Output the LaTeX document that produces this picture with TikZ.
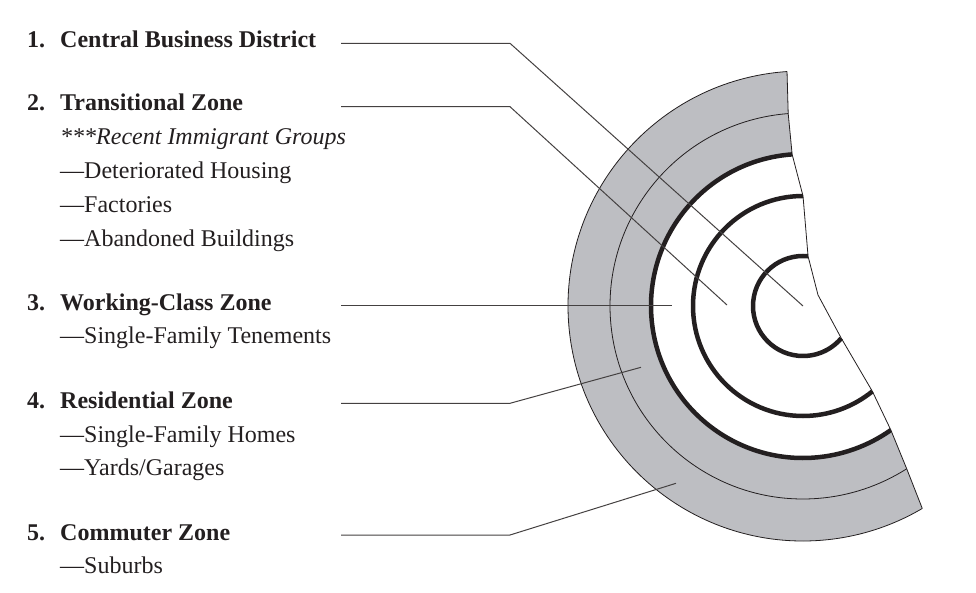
\documentclass[tikz,border=0pt]{standalone}
\usepackage{fontspec}
\setmainfont{Liberation Serif}
\usepackage{xcolor}
\definecolor{zonegray}{RGB}{189,190,194}
\definecolor{inkdark}{RGB}{35,31,32}

\begin{document}
\begin{tikzpicture}[x=1pt, y=1pt,
    num/.style={anchor=base west, inner sep=0pt, text=inkdark, font=\fontsize{24}{29}\selectfont\bfseries},
    zone/.style={anchor=base west, inner sep=0pt, text=inkdark, font=\fontsize{24}{29}\selectfont\bfseries},
    item/.style={anchor=base west, inner sep=0pt, text=inkdark, font=\fontsize{24}{29}\selectfont},
    ring/.style={line width=4.5pt, draw=inkdark},
    thinring/.style={line width=0.8pt, draw=inkdark},
    leader/.style={line width=1pt, draw=inkdark!85}]
    \useasboundingbox (0,0) rectangle (976,592);

    % Centre of the rings
    \coordinate (C) at (803,286);

    \begin{scope}[shift={(C)}]
        % Fill the two outer zones
        \fill[zonegray] (93.9:235) arc[start angle=93.9, end angle=300.5, radius=235]
            -- (302.5:193) -- (305.3:152) arc[start angle=305.3, end angle=94.1, radius=152]
            -- (94.4:193) -- cycle;

        % Define coordinates for the ring ends
        \coordinate (T5) at (93.9:235);
        \coordinate (T4) at (94.4:193);
        \coordinate (T3) at (94.1:152);
        \coordinate (T2) at (90:110);
        \coordinate (T1) at (84.2:50);
        \coordinate (K) at (15,11);
        \coordinate (B1) at (-40.1:50);
        \coordinate (B2) at (-50.9:110);
        \coordinate (B3) at (-54.7:152);
        \coordinate (B4) at (-57.5:193);
        \coordinate (B5) at (-59.5:235);

        % Draw the rings
        \foreach \r/\a/\b/\s in {235/93.9/300.5/thinring, 193/94.4/302.5/thinring,
                                  152/94.1/305.3/ring, 110/90/309.1/ring, 50/84.2/319.9/ring}
            \draw[\s] (\a:\r) arc[start angle=\a, end angle=\b, radius=\r];

        % Draw the cut edge
        \draw[thinring, line join=round] (T5) -- (T4) -- (T3) -- (T2) -- (T1) -- (K)
            -- (B1) -- (B2) -- (B3) -- (B4) -- (B5);
    \end{scope}

    % Zone headings
    \foreach \i/\y/\txt in {1/544/Central Business District, 2/481/Transitional Zone,
                            3/281/Working-Class Zone, 4/184/Residential Zone, 5/52/Commuter Zone} {
        \node[num] (n\i) at (27,\y) {\i.};
        \node[zone] (z\i) at (60,\y) {\txt};
    }

    % Zone details
    \node[item] (t1) at (60,447) {\itshape ***Recent Immigrant Groups};
    \node[item] (t2) at (60,413) {—Deteriorated Housing};
    \node[item] (t3) at (60,379) {—Factories};
    \node[item] (t4) at (60,345) {—Abandoned Buildings};
    \node[item] (t5) at (60,248) {—Single-Family Tenements};
    \node[item] (t6) at (60,150) {—Single-Family Homes};
    \node[item] (t7) at (60,117) {—Yards/Garages};
    \node[item] (t8) at (60,19) {—Suburbs};

    % Leader lines from the headings into the zones
    \coordinate (s1) at (341,548.7);  \coordinate (k1) at (510,548.7);
    \coordinate (s2) at (341,485.3);  \coordinate (k2) at (510,485.3);
    \coordinate (s3) at (341,286.3);
    \coordinate (s4) at (341,188.7);  \coordinate (k4) at (510,188.7);
    \coordinate (s5) at (341,57);     \coordinate (k5) at (510,57);
    \coordinate (e2) at (727,287);
    \coordinate (e3) at (672,286.3);
    \coordinate (e4) at (641,224.7);
    \coordinate (e5) at (676,108.7);

    \draw[leader] (s1) -- (k1) -- (C);
    \draw[leader] (s2) -- (k2) -- (e2);
    \draw[leader] (s3) -- (e3);
    \draw[leader] (s4) -- (k4) -- (e4);
    \draw[leader] (s5) -- (k5) -- (e5);

\end{tikzpicture}
\end{document}
